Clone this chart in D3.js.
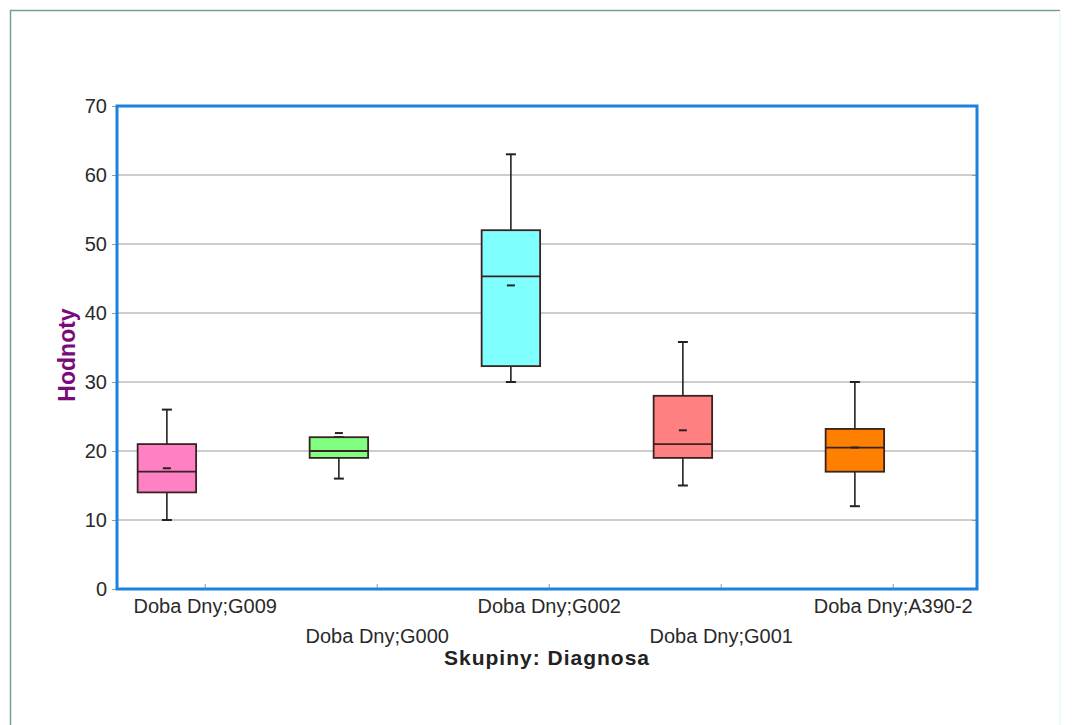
<!DOCTYPE html>
<html>
<head>
<meta charset="utf-8">
<script src="https://cdn.jsdelivr.net/npm/d3@7"></script>
<style>
  html, body { margin: 0; padding: 0; background: #ffffff; }
  svg { display: block; }
  text { font-family: "Liberation Sans", Arial, sans-serif; }
</style>
</head>
<body>
<svg id="chart" width="1073" height="725"></svg>
<script>
// Box plot summary per diagnosis group (days)
const categories = ["Doba Dny;G009", "Doba Dny;G000", "Doba Dny;G002", "Doba Dny;G001", "Doba Dny;A390-2"];
const minVals    = [10, 16, 30, 15, 12];
const q1Vals     = [14, 19, 32.3, 19, 17];
const medianVals = [17, 20, 45.3, 21, 20.5];
const q3Vals     = [21, 22, 52, 28, 23.2];
const maxVals    = [26, 22, 63, 35.8, 30];
const meanVals   = [17.5, 22.6, 44, 23, 20.5];
const boxColors  = ["#ff80c4", "#80ff80", "#80ffff", "#ff8080", "#ff8000"];
const yTicks     = [0, 10, 20, 30, 40, 50, 60, 70];

const svg = d3.select("#chart");
const W = 1073, H = 725;
const plot = { left: 117, right: 977, top: 106, bottom: 589 };

// outer panel frame
svg.append("path").attr("d", `M10.5,${H} V10.5 H1060`)
  .attr("fill", "none").attr("stroke", "#7c9c9c").attr("stroke-width", 1.5);
svg.append("line").attr("x1", 1060).attr("x2", 1060).attr("y1", 11).attr("y2", H)
  .attr("stroke", "#eef8ff").attr("stroke-width", 2);

const x = d3.scaleLinear().domain([0.71, 5.71]).range([plot.left, plot.right]);
const y = d3.scaleLinear().domain([0, 70]).range([plot.bottom, plot.top]);

// horizontal gridlines
svg.append("g").selectAll("line").data(yTicks.filter(v => v > 0 && v < 70)).join("line")
  .attr("x1", plot.left).attr("x2", plot.right)
  .attr("y1", d => y(d)).attr("y2", d => y(d))
  .attr("stroke", "#bdbdbd").attr("stroke-width", 1.5);

// left axis with value labels
const yAxis = svg.append("g").attr("transform", `translate(${plot.left},0)`)
  .call(d3.axisLeft(y).tickValues(yTicks).tickSize(5).tickPadding(5));
yAxis.attr("font-family", null);
yAxis.select(".domain").remove();
yAxis.selectAll(".tick line").attr("stroke", "#999999").attr("stroke-width", 1);
yAxis.selectAll(".tick text").attr("fill", "#2a2a2a").style("font-size", "20px");

// right axis inner ticks
const yAxisR = svg.append("g").attr("transform", `translate(${plot.right},0)`)
  .call(d3.axisRight(y).tickValues(yTicks).tickSize(-5).tickFormat(""));
yAxisR.select(".domain").remove();
yAxisR.selectAll(".tick line").attr("stroke", "#999999");

// bottom axis: category labels, staggered in two rows
const catTicks = categories.map((c, i) => i + 1.22);
const xAxis = svg.append("g").attr("transform", `translate(0,${plot.bottom})`)
  .call(d3.axisBottom(x).tickValues(catTicks).tickSize(-5)
    .tickFormat((d, i) => categories[i]));
xAxis.attr("font-family", null);
xAxis.select(".domain").remove();
xAxis.selectAll(".tick line").attr("stroke", "#999999");
xAxis.selectAll(".tick text")
  .attr("fill", "#2a2a2a")
  .style("font-size", "20px")
  .attr("dy", null)
  .attr("y", (d, i) => i % 2 === 0 ? 24 : 54);

// boxes
const half = 0.17;
const g = svg.append("g");
categories.forEach((c, i) => {
  const cx = x(i + 1);
  const bx0 = x(i + 1 - half), bx1 = x(i + 1 + half);
  const cap = 5;
  // whiskers
  g.append("line").attr("x1", cx).attr("x2", cx).attr("y1", y(maxVals[i])).attr("y2", y(q3Vals[i]))
    .attr("stroke", "#222222").attr("stroke-width", 1.6);
  g.append("line").attr("x1", cx).attr("x2", cx).attr("y1", y(q1Vals[i])).attr("y2", y(minVals[i]))
    .attr("stroke", "#222222").attr("stroke-width", 1.6);
  [maxVals[i], minVals[i]].forEach(v => {
    g.append("line").attr("x1", cx - cap).attr("x2", cx + cap).attr("y1", y(v)).attr("y2", y(v))
      .attr("stroke", "#222222").attr("stroke-width", 2);
  });
  // box
  g.append("rect").attr("x", bx0).attr("y", y(q3Vals[i]))
    .attr("width", bx1 - bx0).attr("height", y(q1Vals[i]) - y(q3Vals[i]))
    .attr("fill", boxColors[i]).attr("stroke", "#3a2222").attr("stroke-width", 1.8);
  // median
  g.append("line").attr("x1", bx0).attr("x2", bx1)
    .attr("y1", y(medianVals[i])).attr("y2", y(medianVals[i]))
    .attr("stroke", "#3a2222").attr("stroke-width", 1.8);
  // mean marker
  g.append("line").attr("x1", cx - 4).attr("x2", cx + 4)
    .attr("y1", y(meanVals[i])).attr("y2", y(meanVals[i]))
    .attr("stroke", "#222222").attr("stroke-width", 2);
});

// plot frame
svg.append("rect").attr("x", plot.left).attr("y", plot.top)
  .attr("width", plot.right - plot.left).attr("height", plot.bottom - plot.top)
  .attr("fill", "none").attr("stroke", "#1b82e0").attr("stroke-width", 3);

// axis titles
svg.append("text").attr("x", 547).attr("y", 665).attr("text-anchor", "middle")
  .style("font-size", "21px").style("font-weight", "bold").style("letter-spacing", "1px")
  .attr("fill", "#222222").text("Skupiny: Diagnosa");
svg.append("text").attr("transform", "translate(75,355) rotate(-90)").attr("text-anchor", "middle")
  .style("font-size", "23px").style("font-weight", "bold")
  .attr("fill", "#7a0a7a").text("Hodnoty");
</script>
</body>
</html>
